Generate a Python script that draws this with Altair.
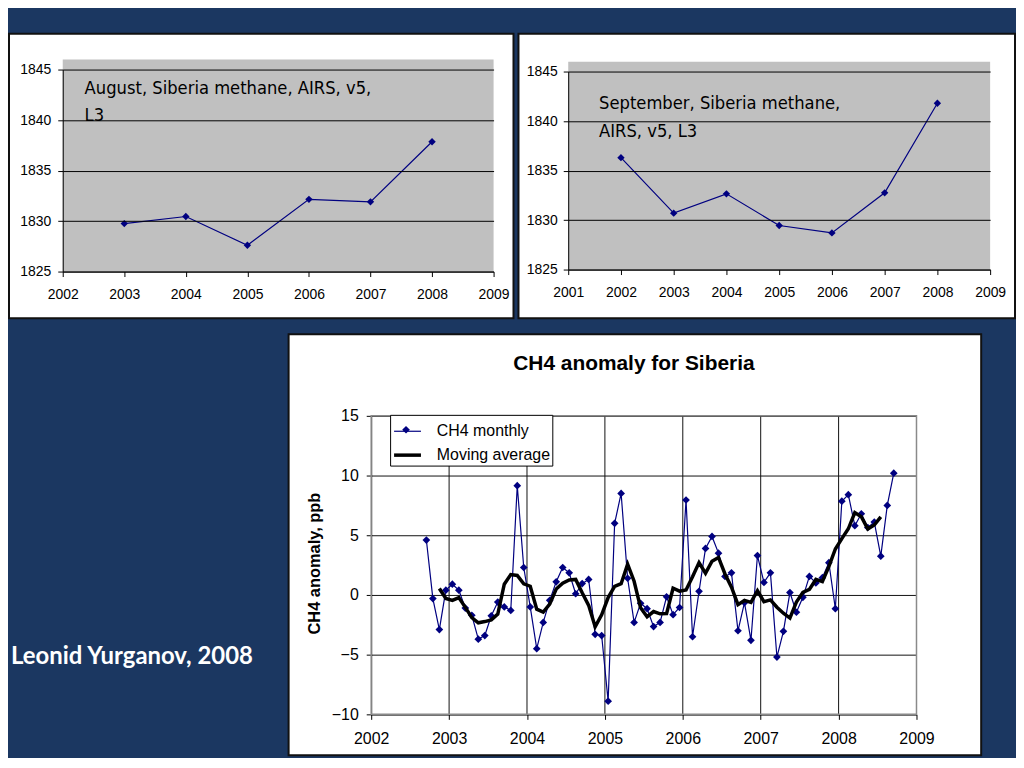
import altair as alt
import pandas as pd

# ---------------- data ----------------
aug_years = [2003, 2004, 2005, 2006, 2007, 2008]
aug_ch4 = [1829.75, 1830.45, 1827.6, 1832.15, 1831.9, 1837.85]
aug_note = ["August, Siberia methane, AIRS, v5,", "L3"]
aug_x_ticks = [2002, 2003, 2004, 2005, 2006, 2007, 2008, 2009]

sep_years = [2002, 2003, 2004, 2005, 2006, 2007, 2008]
sep_ch4 = [1836.3, 1830.7, 1832.65, 1829.45, 1828.7, 1832.75, 1841.8]
sep_note = ["September, Siberia methane,", "AIRS, v5, L3"]
sep_x_ticks = [2001, 2002, 2003, 2004, 2005, 2006, 2007, 2008, 2009]

top_y_ticks = [1825, 1830, 1835, 1840, 1845]
top_plot_top = 1846  # grey plot area reaches a little above 1845

monthly_start = (2002, 9)
ch4_monthly = [
    4.6, -0.3, -2.9, 0.4,
    0.9, 0.4, -1.1, -1.7, -3.7, -3.4, -1.75, -0.6, -1.0, -1.3, 9.15, 2.3,
    -1.0, -4.5, -2.3, -0.45, 1.1, 2.3, 1.85, 0.1, 0.95, 1.3, -3.3, -3.4,
    -8.9, 6.0, 8.5, 1.4, -2.3, -0.7, -1.15, -2.65, -2.3, -0.15, -1.65, -1.05,
    7.95, -3.5, 0.3, 3.9, 4.9, 3.5, 1.55, 1.85, -3.0, -0.65, -3.8, 3.3,
    1.05, 1.85, -5.2, -3.05, 0.2, -1.45, -0.2, 1.55, 1.0, 1.45, 2.7, -1.15,
    7.85, 8.4, 5.8, 6.8, 5.65, 6.1, 3.25, 7.5, 10.2,
]
ma_start = (2002, 11)
moving_avg = [
    0.54, -0.30,
    -0.46, -0.22, -1.04, -1.90, -2.33, -2.23, -2.09, -1.61, 0.90, 1.71, 1.63, 0.93,
    0.73, -1.19, -1.43, -0.77, 0.50, 0.98, 1.26, 1.30, 0.18, -0.87, -2.67, -1.66,
    -0.22, 0.72, 0.94, 2.58, 1.15, -1.08, -1.82, -1.39, -1.58, -1.56, 0.56, 0.32,
    0.41, 1.52, 2.71, 1.82, 2.83, 3.14, 1.76, 0.65, -0.81, -0.46, -0.62, 0.35,
    -0.56, -0.41, -1.03, -1.53, -1.94, -0.59, 0.22, 0.47, 1.30, 1.11, 2.37, 3.85,
    4.72, 5.54, 6.90, 6.55, 5.52, 5.86, 6.54,
]
bottom_x_ticks = [2002, 2003, 2004, 2005, 2006, 2007, 2008, 2009]
bottom_y_ticks = [-10, -5, 0, 5, 10, 15]
bottom_title = "CH4 anomaly for Siberia"
bottom_y_title = "CH4 anomaly, ppb"
legend_labels = ["CH4 monthly", "Moving average"]
author = "Leonid Yurganov, 2008"

# ---------------- styling ----------------
BG = "#1b3761"
NAVY = "#000080"
FONT = "Liberation Sans"
NARROW = "Liberation Sans Narrow, DejaVu Sans Condensed, Liberation Sans"


def month_pos(start, n):
    y, m = start
    return [y + (m - 1 + k + 0.5) / 12 for k in range(n)]


def top_panel(years, vals, xticks, note, w, h, xr, yr, xpad, ypad, nx, ny, nlh):
    xs = alt.Scale(domain=[xticks[0], xticks[-1]], range=xr, nice=False, zero=False)
    ys = alt.Scale(domain=[top_y_ticks[0], top_y_ticks[-1]], range=yr, nice=False, zero=False)
    xa = alt.Axis(values=xticks, format="d", orient="bottom", offset=yr[0] - h,
                  grid=False, domainColor="black", tickColor="black", tickSize=5,
                  labelFont=FONT, labelFontSize=14, labelColor="black",
                  labelPadding=xpad, labelFlush=False, labelOverlap=False,
                  title=None, zindex=1)
    ya = alt.Axis(values=top_y_ticks, format="d", orient="left", offset=-xr[0],
                  grid=True, gridColor="black", gridOpacity=1, gridWidth=1,
                  domainColor="black", tickColor="black", tickSize=5,
                  labelFont=FONT, labelFontSize=14, labelColor="black",
                  labelPadding=ypad, labelFlush=False, labelOverlap=False,
                  title=None, zindex=1)
    area = pd.DataFrame({"x0": [xticks[0]], "x1": [xticks[-1]],
                         "y0": [top_y_ticks[0]], "y1": [top_plot_top]})
    bg = alt.Chart(area).mark_rect(color="#c0c0c0").encode(
        x=alt.X("x0:Q", scale=xs, axis=xa), x2="x1:Q",
        y=alt.Y("y0:Q", scale=ys, axis=ya), y2="y1:Q")
    df = pd.DataFrame({"year": years, "ch4": vals})
    line = alt.Chart(df).mark_line(
        color=NAVY, strokeWidth=1.2,
        point=alt.OverlayMarkDef(shape="diamond", filled=True, size=55, color=NAVY),
    ).encode(x=alt.X("year:Q", scale=xs, axis=xa), y=alt.Y("ch4:Q", scale=ys, axis=ya))
    txt = alt.Chart(pd.DataFrame({"k": [0]})).mark_text(
        text=note, align="left", baseline="alphabetic", font=NARROW,
        fontSize=18.3, lineHeight=nlh, color="black",
    ).encode(x=alt.value(nx), y=alt.value(ny))
    return alt.layer(bg, line, txt).properties(width=w, height=h)


panel_a = top_panel(aug_years, aug_ch4, aug_x_ticks, aug_note, 507, 286,
                    [54, 487], [239, 36], 11, 7, 76, 61, 27)
panel_b = top_panel(sep_years, sep_ch4, sep_x_ticks, sep_note, 499, 286,
                    [50, 474], [237, 38], 11, 6, 81, 76, 28)

# ---------------- bottom panel ----------------
CW, CH = 696, 423
cxs = alt.Scale(domain=[bottom_x_ticks[0], bottom_x_ticks[-1]], range=[83, 631], nice=False, zero=False)
cys = alt.Scale(domain=[bottom_y_ticks[0], bottom_y_ticks[-1]], range=[382, 82], nice=False, zero=False)
cxa = alt.Axis(values=bottom_x_ticks, format="d", orient="bottom", offset=382 - CH,
               grid=False, domainColor="black", tickColor="black", tickSize=5,
               labelFont=FONT, labelFontSize=16, labelColor="black", labelPadding=11,
               labelFlush=False, labelOverlap=False, title=None)
cya = alt.Axis(values=bottom_y_ticks, format="d", orient="left", offset=-83,
               grid=True, gridColor="#111111", gridOpacity=1, gridWidth=1,
               domainColor="black", tickColor="black", tickSize=5,
               labelFont=FONT, labelFontSize=16, labelColor="black", labelPadding=8,
               labelFlush=False, labelOverlap=False,
               title=bottom_y_title, titleFont=FONT, titleFontSize=16.5,
               titleFontWeight="bold", titleColor="black", titleAngle=270,
               titleAlign="center", titleBaseline="middle", titleX=-57, titleY=230)

cx = alt.X("t:Q", scale=cxs, axis=cxa)
cy = alt.Y("v:Q", scale=cys, axis=cya)

vgrid = alt.Chart(pd.DataFrame({"t": bottom_x_ticks[1:-1],
                                "y0": bottom_y_ticks[0], "y1": bottom_y_ticks[-1]})
                  ).mark_rule(color="#111111", strokeWidth=1).encode(
    x=cx, y=alt.Y("y0:Q", scale=cys, axis=cya), y2="y1:Q")

frame = alt.Chart(pd.DataFrame({"t": [bottom_x_ticks[0]], "x1": [bottom_x_ticks[-1]],
                                "y0": [bottom_y_ticks[0]], "y1": [bottom_y_ticks[-1]]})
                  ).mark_rect(fillOpacity=0, stroke="#8a8a8a", strokeWidth=1.5).encode(
    x=cx, x2="x1:Q", y=alt.Y("y0:Q", scale=cys, axis=cya), y2="y1:Q")

mdf = pd.DataFrame({"t": month_pos(monthly_start, len(ch4_monthly)), "v": ch4_monthly,
                    "s": legend_labels[0]})
adf = pd.DataFrame({"t": month_pos(ma_start, len(moving_avg)), "v": moving_avg,
                    "s": legend_labels[1]})

# legends are lifted to the top-level group, so positions are top-level coordinates
leg = alt.Legend(orient="none", legendX=383, legendY=383, title=None, fillColor="white",
                 strokeColor="black", padding=2, symbolType="stroke", symbolSize=729,
                 labelFont=FONT, labelFontSize=16, labelColor="black", labelOffset=14,
                 rowPadding=-1)
leg2 = alt.Legend(orient="none", legendX=395, legendY=394, title=None, padding=0,
                  symbolType="diamond", symbolSize=60, labelExpr="''", labelFontSize=1,
                  symbolStrokeWidth=0)
color_sc = alt.Scale(domain=legend_labels, range=[NAVY, "#000000"])
sw_sc = alt.Scale(domain=legend_labels, range=[1.2, 3.5])

mline = alt.Chart(mdf).mark_line().encode(
    x=cx, y=cy, color=alt.Color("s:N", scale=color_sc, legend=leg),
    strokeWidth=alt.StrokeWidth("s:N", scale=sw_sc, legend=leg))
mpts = alt.Chart(mdf).mark_point(shape="diamond", filled=True, size=60, opacity=1).encode(
    x=cx, y=cy,
    fill=alt.Fill("s:N", scale=alt.Scale(domain=[legend_labels[0]], range=[NAVY]), legend=leg2))
aline = alt.Chart(adf).mark_line().encode(
    x=cx, y=cy, color=alt.Color("s:N", scale=color_sc, legend=leg),
    strokeWidth=alt.StrokeWidth("s:N", scale=sw_sc, legend=leg))
ctitle = alt.Chart(pd.DataFrame({"k": [0]})).mark_text(
    text=bottom_title, align="center", baseline="alphabetic", font=FONT,
    fontSize=21, fontWeight="bold", color="black",
).encode(x=alt.value(347), y=alt.value(36))

panel_c = alt.layer(vgrid, frame, mline, mpts, aline, ctitle).properties(width=CW, height=CH)

panel_t = alt.Chart(pd.DataFrame({"t": [author]})).mark_text(
    align="left", baseline="middle", font="Lato", fontWeight="bold", fontSize=24,
    color="white",
).encode(text="t:N", x=alt.value(2), y=alt.value(324)).properties(
    width=279, height=CH,
    view=alt.ViewBackground(fill="transparent", stroke="transparent"))

row1 = alt.hconcat(panel_a, panel_b, spacing=3)
row2 = alt.hconcat(panel_t, panel_c, spacing=0)

chart = alt.vconcat(row1, row2, spacing=14).properties(
    background=BG,
    padding={"left": 0, "top": 23, "right": 0, "bottom": 0},
).configure_view(fill="white", stroke="#111111", strokeWidth=2)

chart.save("out.html", embed_options={"renderer": "svg", "actions": False})
